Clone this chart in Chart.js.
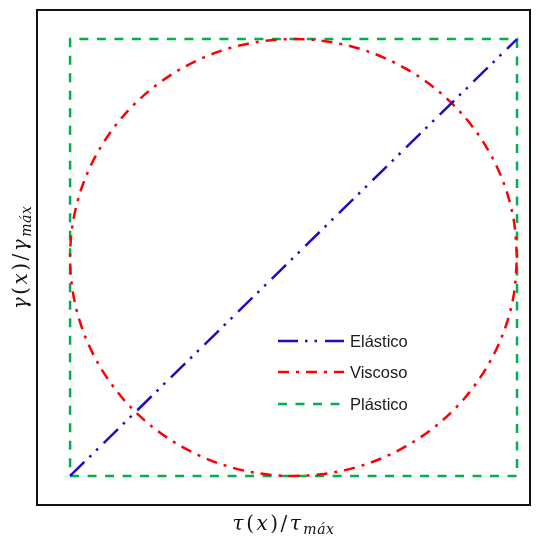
<!DOCTYPE html>
<html>
<head>
<meta charset="utf-8">
<script src="https://cdn.jsdelivr.net/npm/chart.js@4"></script>
<style>
  html, body { margin: 0; padding: 0; background: #fff; }
  #wrap { width: 536px; height: 540px; }
</style>
</head>
<body>
<div id="wrap"><canvas id="c" width="536" height="540"></canvas></div>
<script>
// Normalised strain vs. normalised stress for three material models
const seriesNames = ['Elástico', 'Viscoso', 'Plástico'];

// Elastic: straight line across the domain
const elasticX = [-1, 1];
const elasticY = [-1, 1];

// Viscous: closed circle, sampled every 10 degrees
const viscousX = [1, 0.985, 0.940, 0.866, 0.766, 0.643, 0.5, 0.342, 0.174, 0,
  -0.174, -0.342, -0.5, -0.643, -0.766, -0.866, -0.940, -0.985, -1,
  -0.985, -0.940, -0.866, -0.766, -0.643, -0.5, -0.342, -0.174, 0,
  0.174, 0.342, 0.5, 0.643, 0.766, 0.866, 0.940, 0.985, 1];
const viscousY = [0, 0.174, 0.342, 0.5, 0.643, 0.766, 0.866, 0.940, 0.985, 1,
  0.985, 0.940, 0.866, 0.766, 0.643, 0.5, 0.342, 0.174, 0,
  -0.174, -0.342, -0.5, -0.643, -0.766, -0.866, -0.940, -0.985, -1,
  -0.985, -0.940, -0.866, -0.766, -0.643, -0.5, -0.342, -0.174, 0];

// Plastic: square loop
const plasticX = [-1, 1, 1, -1, -1];
const plasticY = [-1, -1, 1, 1, -1];

const toPoints = (xs, ys) => xs.map((x, i) => ({ x: x, y: ys[i] }));

const colors = ['#200ac8', '#ff0000', '#00b050'];
const dashes = [[20, 7, 2.5, 7, 2.5, 8], [11, 7, 3, 7], [9, 8.5]];

// Frame around the plotting area
const framePlugin = {
  id: 'frame',
  afterDraw(chart) {
    const { ctx, chartArea: a } = chart;
    ctx.save();
    ctx.strokeStyle = '#111';
    ctx.lineWidth = 2;
    ctx.strokeRect(a.left, a.top, a.right - a.left, a.bottom - a.top);
    ctx.restore();
  }
};

// Legend drawn inside the plotting area
const innerLegend = {
  id: 'innerLegend',
  afterDraw(chart) {
    const { ctx, chartArea: a } = chart;
    const x0 = a.left + 241, x1 = a.left + 307, tx = a.left + 313;
    const rows = [a.top + 331, a.top + 362, a.top + 394];
    ctx.save();
    chart.data.datasets.forEach((ds, i) => {
      const y = rows[i];
      ctx.strokeStyle = ds.borderColor;
      ctx.lineWidth = ds.borderWidth;
      ctx.setLineDash(ds.borderDash);
      ctx.beginPath();
      ctx.moveTo(x0, y);
      ctx.lineTo(x1, y);
      ctx.stroke();
      ctx.setLineDash([]);
      ctx.fillStyle = '#1a1a1a';
      ctx.font = '16.5px "Liberation Sans", Arial, sans-serif';
      ctx.textBaseline = 'middle';
      ctx.textAlign = 'left';
      ctx.fillText(ds.label, tx, y + 1);
    });
    ctx.restore();
  }
};

// Draws a run of text pieces with optional italics and subscripts, centred on cx
function drawRuns(ctx, runs, cx, baseline) {
  const fam = '"DejaVu Serif", "Liberation Serif", serif';
  const fontOf = r => (r.it ? 'italic ' : '') + (r.sub ? '14px ' : '20px ') + fam;
  const spacingOf = r => (r.sub ? '0.5px' : '2.5px');
  let total = 0;
  runs.forEach(r => {
    ctx.font = fontOf(r);
    ctx.letterSpacing = spacingOf(r);
    total += ctx.measureText(r.t).width;
  });
  let x = cx - total / 2;
  runs.forEach(r => {
    ctx.font = fontOf(r);
    ctx.letterSpacing = spacingOf(r);
    ctx.fillText(r.t, x, baseline + (r.sub ? 4 : 0));
    x += ctx.measureText(r.t).width;
  });
  ctx.letterSpacing = '0px';
}

const titlePlugin = {
  id: 'axisTitles',
  afterDraw(chart) {
    const { ctx, chartArea: a } = chart;
    ctx.save();
    ctx.fillStyle = '#111';
    ctx.textBaseline = 'alphabetic';
    ctx.textAlign = 'left';
    const cx = (a.left + a.right) / 2;
    drawRuns(ctx, [
      { t: 'τ', it: true }, { t: '(' }, { t: 'x', it: true }, { t: ')/' },
      { t: 'τ', it: true }, { t: 'máx', it: true, sub: true }
    ], cx, a.bottom + 25);
    ctx.translate(a.left - 10, (a.top + a.bottom) / 2);
    ctx.rotate(-Math.PI / 2);
    drawRuns(ctx, [
      { t: 'γ', it: true }, { t: '(' }, { t: 'x', it: true }, { t: ')/' },
      { t: 'γ', it: true }, { t: 'máx', it: true, sub: true }
    ], 0, 0);
    ctx.restore();
  }
};

new Chart(document.getElementById('c'), {
  type: 'scatter',
  data: {
    datasets: [
      { label: seriesNames[0], data: toPoints(elasticX, elasticY) },
      { label: seriesNames[1], data: toPoints(viscousX, viscousY), tension: 0.33 },
      { label: seriesNames[2], data: toPoints(plasticX, plasticY) }
    ].map((d, i) => Object.assign({
      showLine: true,
      borderColor: colors[i],
      backgroundColor: colors[i],
      borderWidth: 2.5,
      borderDash: dashes[i],
      pointRadius: 0,
      pointHoverRadius: 0,
      fill: false,
      tension: 0
    }, d))
  },
  options: {
    responsive: false,
    animation: false,
    layout: { padding: { left: 37, top: 10, right: 6, bottom: 35 } },
    plugins: { legend: { display: false }, tooltip: { enabled: false } },
    scales: {
      x: { type: 'linear', display: false, min: -1.148, max: 1.058 },
      y: { type: 'linear', display: false, min: -1.133, max: 1.133 }
    }
  },
  plugins: [framePlugin, innerLegend, titlePlugin]
});
</script>
</body>
</html>
